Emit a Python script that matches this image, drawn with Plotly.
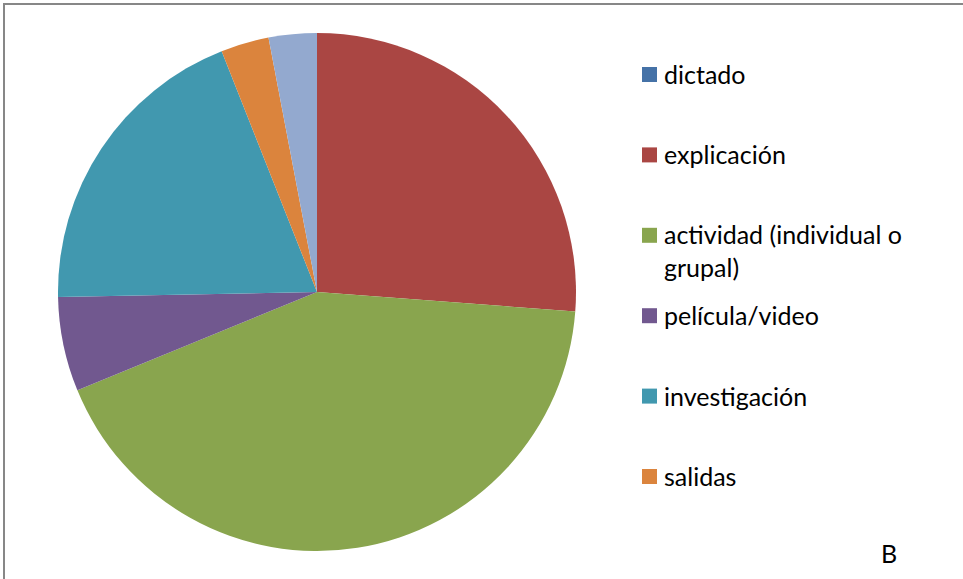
import plotly.graph_objects as go

W, H = 963, 579

categories = ["dictado", "explicación", "actividad (individual o<br>grupal)",
              "película/video", "investigación", "salidas", "otros"]
values = [0, 26.2, 42.6, 5.9, 19.3, 3.0, 3.0]
colors = ["#4572A7", "#AA4643", "#89A54E", "#71588F", "#4198AF", "#DB843D", "#93A9CF"]
legend_count = 6  # only the first six entries are visible in the legend

FONT = "Lato"
FS = 25

def px(x):
    return x / W

def py(y):
    return 1 - y / H

cx, cy, r = 317, 292, 259

fig = go.Figure(go.Pie(
    labels=[c.replace("<br>", " ") for c in categories],
    values=values,
    marker=dict(colors=colors, line=dict(width=0)),
    sort=False,
    direction="clockwise",
    rotation=0,
    textinfo="none",
    hoverinfo="label+percent",
    showlegend=False,
    domain=dict(x=[px(cx - r), px(cx + r)], y=[py(cy + r), py(cy - r)]),
))

shapes = []
annotations = []
# frame (only top and left edges visible in the window)
shapes.append(dict(type="rect", xref="paper", yref="paper",
                   x0=px(4), x1=px(W + 20), y0=py(H + 20), y1=py(4),
                   line=dict(color="#878787", width=2), fillcolor="rgba(0,0,0,0)",
                   layer="above"))

y0_leg, step = 74, 80.4
line_h = 32
for i in range(legend_count):
    yc = y0_leg + step * i
    shapes.append(dict(type="rect", xref="paper", yref="paper",
                       x0=px(642), x1=px(657), y0=py(yc + 8), y1=py(yc - 7),
                       fillcolor=colors[i], line=dict(width=0)))
    n = categories[i].count("<br>") + 1
    annotations.append(dict(xref="paper", yref="paper",
                            x=px(662), y=py(yc + (n - 1) * line_h / 2),
                            xanchor="left", yanchor="middle", align="left",
                            text=categories[i], showarrow=False,
                            font=dict(family=FONT, size=FS, color="#000000")))

annotations.append(dict(xref="paper", yref="paper", x=px(889), y=py(553),
                        xanchor="center", yanchor="middle", text="B", showarrow=False,
                        font=dict(family=FONT, size=FS, color="#000000")))

fig.update_layout(
    width=W, height=H,
    margin=dict(l=0, r=0, t=0, b=0),
    paper_bgcolor="white", plot_bgcolor="white",
    shapes=shapes, annotations=annotations,
    font=dict(family=FONT),
)

fig.write_html("out.html")
